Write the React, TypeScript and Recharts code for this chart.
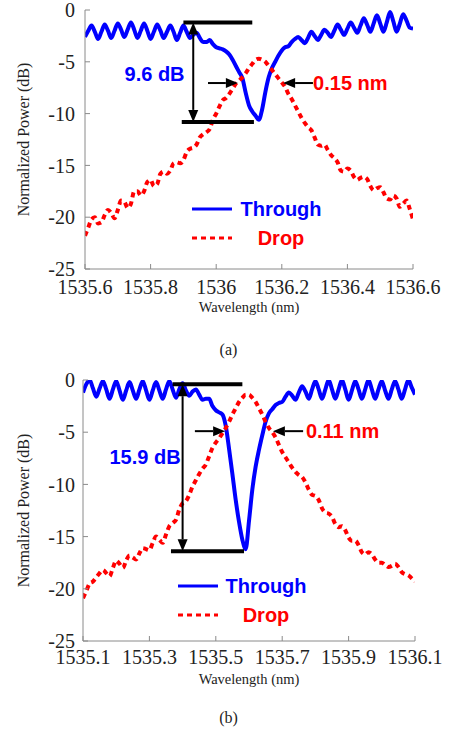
import React from "react";
import { Legend, Line, LineChart, ReferenceDot, ReferenceLine, XAxis, YAxis } from "recharts";

// panel (a)
const wavelengthA = [
  1535.6, 1535.61, 1535.62, 1535.63, 1535.64, 1535.65, 1535.66, 1535.67, 1535.68, 1535.69,
  1535.7, 1535.71, 1535.72, 1535.73, 1535.74, 1535.75, 1535.76, 1535.77, 1535.78, 1535.79,
  1535.8, 1535.81, 1535.82, 1535.83, 1535.84, 1535.85, 1535.86, 1535.87, 1535.88, 1535.89,
  1535.9, 1535.91, 1535.92, 1535.93, 1535.94, 1535.95, 1535.96, 1535.97, 1535.98, 1535.99,
  1536.0, 1536.01, 1536.02, 1536.03, 1536.04, 1536.05, 1536.06, 1536.07, 1536.08, 1536.09,
  1536.1, 1536.11, 1536.12, 1536.13, 1536.14, 1536.15, 1536.16, 1536.17, 1536.18, 1536.19,
  1536.2, 1536.21, 1536.22, 1536.23, 1536.24, 1536.25, 1536.26, 1536.27, 1536.28, 1536.29,
  1536.3, 1536.31, 1536.32, 1536.33, 1536.34, 1536.35, 1536.36, 1536.37, 1536.38, 1536.39,
  1536.4, 1536.41, 1536.42, 1536.43, 1536.44, 1536.45, 1536.46, 1536.47, 1536.48, 1536.49,
  1536.5, 1536.51, 1536.52, 1536.53, 1536.54, 1536.55, 1536.56, 1536.57, 1536.58, 1536.59,
  1536.6,
];
const throughA = [
  -2.6, -2.0, -1.5, -2.1, -2.8, -2.1, -1.4, -2.0, -2.7, -2.0,
  -1.3, -1.9, -2.6, -1.9, -1.2, -1.9, -2.7, -2.0, -1.3, -2.0,
  -2.8, -2.1, -1.4, -2.0, -2.7, -2.1, -1.5, -2.1, -2.9, -2.2,
  -1.5, -2.1, -2.7, -2.4, -2.2, -2.7, -3.1, -3.1, -2.9, -3.3,
  -3.6, -3.7, -3.8, -4.0, -4.3, -4.8, -5.4, -6.0, -6.6, -8.0,
  -9.2, -9.8, -10.2, -10.6, -9.6, -7.9, -6.5, -5.6, -5.0, -4.4,
  -3.9, -3.6, -3.5, -3.1, -2.8, -2.6, -2.9, -3.2, -2.7, -2.1,
  -2.5, -2.9, -2.4, -1.9, -2.2, -2.6, -2.0, -1.4, -1.9, -2.4,
  -1.8, -1.2, -1.7, -2.2, -1.5, -0.8, -1.4, -2.1, -1.3, -0.5,
  -1.3, -2.1, -1.2, -0.2, -1.1, -2.1, -1.3, -0.4, -1.0, -1.7,
  -1.8,
];
const dropA = [
  -21.8, -21.0, -20.2, -20.0, -20.6, -20.5, -19.8, -19.3, -19.6, -20.1,
  -19.3, -18.4, -18.5, -19.1, -18.7, -17.5, -17.5, -17.9, -17.5, -16.6,
  -16.4, -17.0, -16.8, -15.8, -15.6, -15.8, -15.5, -14.8, -14.7, -14.8,
  -14.5, -13.7, -13.4, -13.3, -13.0, -12.3, -12.0, -11.8, -11.5, -10.6,
  -10.0, -9.3, -8.7, -8.5, -8.1, -7.6, -7.1, -6.8, -6.5, -6.1,
  -5.6, -5.2, -4.8, -4.7, -4.8, -5.0, -5.4, -5.8, -6.2, -6.6,
  -7.0, -7.4, -8.1, -8.6, -9.2, -9.8, -10.4, -10.9, -11.3, -11.6,
  -12.3, -13.0, -13.1, -13.0, -13.5, -14.0, -14.3, -14.7, -15.5, -15.6,
  -15.3, -15.5, -16.1, -16.4, -16.2, -16.1, -16.3, -17.0, -17.4, -17.2,
  -17.1, -17.6, -18.2, -18.3, -17.9, -18.2, -19.0, -18.7, -18.4, -19.2,
  -20.2,
];
const ticksA = [1535.6, 1535.8, 1536, 1536.2, 1536.4, 1536.6];

// panel (b)
const wavelengthB = [
  1535.1, 1535.11, 1535.12, 1535.13, 1535.14, 1535.15, 1535.16, 1535.17, 1535.18, 1535.19,
  1535.2, 1535.21, 1535.22, 1535.23, 1535.24, 1535.25, 1535.26, 1535.27, 1535.28, 1535.29,
  1535.3, 1535.31, 1535.32, 1535.33, 1535.34, 1535.35, 1535.36, 1535.37, 1535.38, 1535.39,
  1535.4, 1535.41, 1535.42, 1535.43, 1535.44, 1535.45, 1535.46, 1535.47, 1535.48, 1535.49,
  1535.5, 1535.51, 1535.52, 1535.53, 1535.54, 1535.55, 1535.56, 1535.57, 1535.58, 1535.59,
  1535.6, 1535.61, 1535.62, 1535.63, 1535.64, 1535.65, 1535.66, 1535.67, 1535.68, 1535.69,
  1535.7, 1535.71, 1535.72, 1535.73, 1535.74, 1535.75, 1535.76, 1535.77, 1535.78, 1535.79,
  1535.8, 1535.81, 1535.82, 1535.83, 1535.84, 1535.85, 1535.86, 1535.87, 1535.88, 1535.89,
  1535.9, 1535.91, 1535.92, 1535.93, 1535.94, 1535.95, 1535.96, 1535.97, 1535.98, 1535.99,
  1536.0, 1536.01, 1536.02, 1536.03, 1536.04, 1536.05, 1536.06, 1536.07, 1536.08, 1536.09,
  1536.1,
];
const throughB = [
  -1.2, -0.4, 0.0, -0.8, -1.6, -0.8, -0.1, -0.9, -1.8, -0.9,
  -0.1, -1.0, -1.9, -1.0, -0.2, -1.0, -1.8, -0.9, -0.1, -1.0,
  -1.9, -1.0, -0.2, -1.0, -1.8, -0.9, -0.1, -0.9, -1.7, -0.9,
  -0.3, -1.0, -1.5, -1.1, -0.9, -1.4, -1.9, -1.8, -1.8, -2.5,
  -2.9, -3.1, -3.3, -4.4, -6.6, -9.0, -11.5, -13.6, -15.3, -16.2,
  -13.5, -10.5, -8.3, -6.7, -5.3, -4.0, -3.2, -2.8, -2.4, -2.2,
  -2.1, -1.6, -1.2, -1.5, -1.9, -1.2, -0.6, -1.1, -1.8, -0.9,
  -0.1, -0.9, -1.8, -0.9, 0.0, -0.9, -1.8, -0.9, 0.0, -0.9,
  -1.9, -1.0, -0.1, -0.9, -1.8, -0.9, 0.0, -0.9, -1.8, -0.9,
  -0.1, -1.0, -1.8, -0.9, -0.1, -0.9, -1.8, -0.9, 0.0, -0.7,
  -1.4,
];
const dropB = [
  -20.9, -20.2, -19.5, -19.3, -18.9, -18.5, -18.2, -18.5, -18.8, -18.0,
  -17.3, -17.6, -18.0, -17.3, -16.8, -17.0, -17.2, -16.6, -16.1, -16.2,
  -16.3, -15.6, -15.0, -15.3, -15.6, -14.8, -14.0, -13.7, -13.4, -12.4,
  -11.8, -11.6, -11.0, -10.2, -9.6, -9.0, -8.5, -8.1, -7.3, -6.5,
  -6.0, -5.6, -5.1, -4.6, -4.0, -3.3, -2.7, -2.1, -1.7, -1.4,
  -1.4, -1.7, -2.1, -2.7, -3.3, -4.0, -4.6, -5.0, -5.5, -6.2,
  -6.9, -7.4, -7.9, -8.4, -8.8, -9.1, -9.3, -9.8, -10.5, -11.0,
  -11.1, -11.5, -12.3, -12.7, -12.8, -13.1, -13.8, -14.1, -14.0, -14.4,
  -15.1, -15.4, -15.4, -15.8, -16.5, -16.7, -16.5, -16.7, -17.2, -17.5,
  -17.5, -17.7, -17.9, -17.8, -17.6, -17.9, -18.4, -18.6, -18.7, -19.0,
  -19.3,
];
const ticksB = [1535.1, 1535.3, 1535.5, 1535.7, 1535.9, 1536.1];

const powerTicks = [-25, -20, -15, -10, -5, 0];
const seriesOrder = ["Through", "Drop"];

const SERIF = "Liberation Serif, DejaVu Serif, serif";
const SANS = "Liberation Sans, Arial, sans-serif";
const BLUE = "#0000ff";
const RED = "#ff0000";
const FRAME = "#8a8a8a";
const INK = "#222";
const HEAD_L = 12;
const HEAD_W = 10;

type Seg = { x1: number; x2: number; y1: number; y2: number };
type Note = { x: number; y: number; text: string; color: string };

function headPoints(tx: number, ty: number, ux: number, uy: number) {
  const bx = tx - ux * HEAD_L;
  const by = ty - uy * HEAD_L;
  const nx = -uy * (HEAD_W / 2);
  const ny = ux * (HEAD_W / 2);
  return `${tx},${ty} ${bx + nx},${by + ny} ${bx - nx},${by - ny}`;
}

const arrowShape = (both: boolean) => (p: any) => {
  const { x1, y1, x2, y2 } = p;
  const len = Math.hypot(x2 - x1, y2 - y1) || 1;
  const ux = (x2 - x1) / len;
  const uy = (y2 - y1) / len;
  const sx = both ? x1 + ux * HEAD_L : x1;
  const sy = both ? y1 + uy * HEAD_L : y1;
  return (
    <g>
      <line x1={sx} y1={sy} x2={x2 - ux * HEAD_L} y2={y2 - uy * HEAD_L} stroke="#000" strokeWidth={2} />
      <polygon points={headPoints(x2, y2, ux, uy)} fill="#000" />
      {both && <polygon points={headPoints(x1, y1, -ux, -uy)} fill="#000" />}
    </g>
  );
};

const legendContent = (textX: number) => (props: any) => {
  const items = [...(props.payload ?? [])].sort(
    (a: any, b: any) => seriesOrder.indexOf(a.value) - seriesOrder.indexOf(b.value)
  );
  return (
    <svg width={150} height={60}>
      {items.map((item: any, i: number) => {
        const y = 14 + i * 29;
        return (
          <g key={item.value}>
            <line x1={2} x2={42} y1={y} y2={y} stroke={item.color} strokeWidth={3}
              strokeDasharray={item.payload?.strokeDasharray} />
            <text x={textX} y={y} textAnchor="middle" dominantBaseline="central" fill={item.color}
              style={{ fontFamily: SANS, fontWeight: "bold", fontSize: 20 }}>{item.value}</text>
          </g>
        );
      })}
    </svg>
  );
};

type PanelProps = {
  wavelength: number[];
  through: number[];
  drop: number[];
  ticks: number[];
  top: number;
  left: number;
  right: number;
  bottom: number;
  xTickMargin: number;
  bars: Seg[];
  doubleArrow: Seg;
  arrows: Seg[];
  notes: Note[];
  legendPos: { left: number; top: number; textX: number };
};

function SpectrumPanel(p: PanelProps) {
  const data = p.wavelength.map((w, i) => ({ w, through: p.through[i], drop: p.drop[i] }));
  const domain: [number, number] = [p.ticks[0], p.ticks[p.ticks.length - 1]];
  const H = 330;
  const marginTop = 10;
  const plotH = H - marginTop - p.bottom - 45;
  const plotW = 453 - p.left - p.right;
  const tickStyle = { fill: INK, fontSize: 20, style: { fontFamily: SERIF } };

  return (
    <div style={{ position: "absolute", left: 0, top: p.top, width: 453, height: H }}>
      <LineChart width={453} height={H} data={data} style={{ fontFamily: SERIF }}
        margin={{ top: marginTop, right: p.right, bottom: p.bottom, left: 0 }}>
        <XAxis dataKey="w" type="number" domain={domain} ticks={p.ticks} interval={0}
          allowDataOverflow height={45} stroke={FRAME} tickSize={-5} tickMargin={p.xTickMargin}
          tick={tickStyle}
          label={{
            content: () => (
              <text x={p.left + plotW / 2} y={marginTop + plotH + 38} textAnchor="middle"
                dominantBaseline="central" fill={INK} style={{ fontFamily: SERIF, fontSize: 14.5 }}>
                Wavelength (nm)
              </text>
            ),
          }} />
        <XAxis xAxisId="top" orientation="top" type="number" domain={domain} ticks={p.ticks}
          interval={0} allowDataOverflow height={0} stroke={FRAME} tickSize={-5} tick={false} />
        <YAxis type="number" domain={[-25, 0]} ticks={powerTicks} interval={0} allowDataOverflow
          width={p.left} stroke={FRAME} tickSize={-5} tickMargin={p.left - 70}
          tick={tickStyle}
          label={{
            content: () => {
              const cy = marginTop + plotH / 2;
              return (
                <text x={23} y={cy} transform={`rotate(-90 23 ${cy})`} textAnchor="middle"
                  dominantBaseline="central" fill={INK} style={{ fontFamily: SERIF, fontSize: 16 }}>
                  Normalized Power (dB)
                </text>
              );
            },
          }} />
        <YAxis yAxisId="right" orientation="right" type="number" domain={[-25, 0]} ticks={powerTicks}
          interval={0} allowDataOverflow width={0} stroke={FRAME} tickSize={-5} tick={false} />

        <Line name="Through" dataKey="through" type="monotone" stroke={BLUE} strokeWidth={4}
          dot={false} activeDot={false} isAnimationActive={false} />
        <Line name="Drop" dataKey="drop" type="monotone" stroke={RED} strokeWidth={4}
          strokeDasharray="5 4" dot={false} activeDot={false} isAnimationActive={false} />

        {p.bars.map((b, i) => (
          <ReferenceLine key={`bar${i}`} segment={[{ x: b.x1, y: b.y1 }, { x: b.x2, y: b.y2 }]}
            stroke="#000" strokeWidth={4} />
        ))}
        <ReferenceLine
          segment={[{ x: p.doubleArrow.x1, y: p.doubleArrow.y1 }, { x: p.doubleArrow.x2, y: p.doubleArrow.y2 }]}
          shape={arrowShape(true)} />
        {p.arrows.map((a, i) => (
          <ReferenceLine key={`arrow${i}`} segment={[{ x: a.x1, y: a.y1 }, { x: a.x2, y: a.y2 }]}
            shape={arrowShape(false)} />
        ))}
        {p.notes.map((n) => (
          <ReferenceDot key={n.text} x={n.x} y={n.y} r={1}
            shape={(s: any) => (
              <text x={s.cx} y={s.cy} textAnchor="middle" dominantBaseline="central" fill={n.color}
                style={{ fontFamily: SANS, fontWeight: "bold", fontSize: 20 }}>{n.text}</text>
            )} />
        ))}

        <Legend layout="horizontal" align="center" verticalAlign="middle"
          wrapperStyle={{ left: p.legendPos.left, top: p.legendPos.top, width: 150, height: 60 }}
          content={legendContent(p.legendPos.textX)} />
      </LineChart>
    </div>
  );
}

const captionStyle: React.CSSProperties = {
  position: "absolute", left: 0, width: 453, paddingLeft: 4, boxSizing: "border-box",
  textAlign: "center", fontFamily: SERIF, fontSize: 16, color: INK,
};

export default function App() {
  return (
    <div style={{ position: "absolute", left: 0, top: 0, width: 453, height: 730, background: "#fff" }}>
      <SpectrumPanel
        wavelength={wavelengthA} through={throughA} drop={dropA} ticks={ticksA}
        top={0} left={85} right={40} bottom={16} xTickMargin={16}
        bars={[
          { x1: 1535.9, x2: 1536.11, y1: -1.2, y2: -1.2 },
          { x1: 1535.895, x2: 1536.115, y1: -10.8, y2: -10.8 },
        ]}
        doubleArrow={{ x1: 1535.93, x2: 1535.93, y1: -1.2, y2: -10.8 }}
        arrows={[
          { x1: 1535.975, x2: 1536.066, y1: -7.05, y2: -7.05 },
          { x1: 1536.295, x2: 1536.204, y1: -7.05, y2: -7.05 },
        ]}
        notes={[
          { x: 1535.812, y: -6.2, text: "9.6 dB", color: BLUE },
          { x: 1536.409, y: -7.05, text: "0.15 nm", color: RED },
        ]}
        legendPos={{ left: 190, top: 195, textX: 91 }}
      />
      <div style={{ ...captionStyle, top: 341 }}>(a)</div>
      <SpectrumPanel
        wavelength={wavelengthB} through={throughB} drop={dropB} ticks={ticksB}
        top={370} left={83} right={38} bottom={14} xTickMargin={14}
        bars={[
          { x1: 1535.37, x2: 1535.58, y1: -0.4, y2: -0.4 },
          { x1: 1535.365, x2: 1535.585, y1: -16.4, y2: -16.4 },
        ]}
        doubleArrow={{ x1: 1535.4, x2: 1535.4, y1: -0.4, y2: -16.4 }}
        arrows={[
          { x1: 1535.437, x2: 1535.528, y1: -4.9, y2: -4.9 },
          { x1: 1535.763, x2: 1535.672, y1: -4.9, y2: -4.9 },
        ]}
        notes={[
          { x: 1535.287, y: -7.4, text: "15.9 dB", color: BLUE },
          { x: 1535.882, y: -4.9, text: "0.11 nm", color: RED },
        ]}
        legendPos={{ left: 176, top: 202, textX: 90 }}
      />
      <div style={{ ...captionStyle, top: 709 }}>(b)</div>
    </div>
  );
}
